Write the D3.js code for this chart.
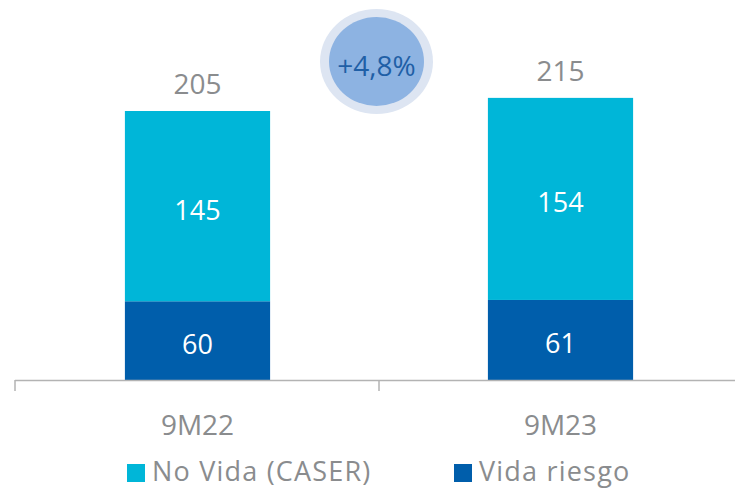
<!DOCTYPE html>
<html>
<head>
<meta charset="utf-8">
<script src="https://cdn.jsdelivr.net/npm/d3@7"></script>
<style>
  body { margin: 0; background: #fff; }
  svg { display: block; font-family: "Open Sans", Lato, sans-serif; }
</style>
</head>
<body>
<svg width="735" height="489"></svg>
<script>
// data
const periods = ["9M22", "9M23"];
const noVida = [145, 154];
const vidaRiesgo = [60, 61];
const totals = [205, 215];
const growthLabel = "+4,8%";
const seriesNames = ["No Vida (CASER)", "Vida riesgo"];

const colors = { noVida: "#00b6d8", vida: "#005eab", grey: "#8a8c8e" };

const svg = d3.select("svg");
const baseY = 380;

const x = d3.scaleBand()
    .domain(periods)
    .range([16, 742])
    .paddingInner(0.6)
    .paddingOuter(0.3);

const y = d3.scaleLinear()
    .domain([0, 205])
    .range([baseY, 111]);

const g = svg.append("g");

// stacked bars
const rows = periods.map((p, i) => ({ p, vida: vidaRiesgo[i], noVida: noVida[i], total: totals[i] }));

g.selectAll(".vida").data(rows).enter().append("rect")
    .attr("x", d => x(d.p))
    .attr("width", x.bandwidth())
    .attr("y", d => y(d.vida))
    .attr("height", d => y(0) - y(d.vida))
    .attr("fill", colors.vida);

g.selectAll(".novida").data(rows).enter().append("rect")
    .attr("x", d => x(d.p))
    .attr("width", x.bandwidth())
    .attr("y", d => y(d.vida + d.noVida))
    .attr("height", d => y(d.vida) - y(d.vida + d.noVida))
    .attr("fill", colors.noVida);

// value labels inside bars
g.selectAll(".lblVida").data(rows).enter().append("text")
    .attr("x", d => x(d.p) + x.bandwidth() / 2)
    .attr("y", d => (y(0) + y(d.vida)) / 2 + 13.5)
    .attr("text-anchor", "middle")
    .attr("fill", "#fff")
    .attr("font-size", 27)
    .text(d => d.vida);

g.selectAll(".lblNoVida").data(rows).enter().append("text")
    .attr("x", d => x(d.p) + x.bandwidth() / 2)
    .attr("y", d => (y(d.vida) + y(d.vida + d.noVida)) / 2 + 13.5)
    .attr("text-anchor", "middle")
    .attr("fill", "#fff")
    .attr("font-size", 27)
    .text(d => d.noVida);

// totals
g.selectAll(".tot").data(rows).enter().append("text")
    .attr("x", d => x(d.p) + x.bandwidth() / 2)
    .attr("y", d => y(d.total) - 17)
    .attr("text-anchor", "middle")
    .attr("fill", colors.grey)
    .attr("font-size", 28)
    .text(d => d.total);

// axis with ticks between categories
const axis = g.append("g");
axis.append("line")
    .attr("x1", 15).attr("x2", 735)
    .attr("y1", baseY + 0.5).attr("y2", baseY + 0.5)
    .attr("stroke", "#b3b3b3").attr("stroke-width", 1.5);
const step = x.step();
const tickXs = [x.range()[0] - 1, x(periods[1]) - step * 0.3];
axis.selectAll(".tick").data(tickXs).enter().append("line")
    .attr("x1", d => d).attr("x2", d => d)
    .attr("y1", baseY).attr("y2", baseY + 11)
    .attr("stroke", "#b3b3b3").attr("stroke-width", 1.5);

axis.selectAll(".cat").data(periods).enter().append("text")
    .attr("x", d => x(d) + x.bandwidth() / 2)
    .attr("y", 435)
    .attr("text-anchor", "middle")
    .attr("fill", colors.grey)
    .attr("font-size", 28)
    .text(d => d);

// growth badge
const badge = svg.append("g").attr("transform", "translate(376.5,61.5)");
badge.append("ellipse").attr("rx", 56.5).attr("ry", 52.5).attr("fill", "#dde5f2");
badge.append("ellipse").attr("rx", 47.5).attr("ry", 44.5).attr("fill", "#8db3e2");
badge.append("text")
    .attr("y", 14.5)
    .attr("text-anchor", "middle")
    .attr("fill", "#1f5fa6")
    .attr("font-size", 28)
    .text(growthLabel);

// legend
const legend = svg.append("g");
const legendItems = [
    { name: seriesNames[0], color: colors.noVida, x: 127 },
    { name: seriesNames[1], color: colors.vida, x: 454 }
];
const li = legend.selectAll("g").data(legendItems).enter().append("g")
    .attr("transform", d => `translate(${d.x},0)`);
li.append("rect").attr("y", 464).attr("width", 18).attr("height", 18).attr("fill", d => d.color);
li.append("text")
    .attr("x", 25)
    .attr("y", 481)
    .attr("fill", colors.grey)
    .attr("font-size", 27)
    .attr("letter-spacing", 1.2)
    .text(d => d.name);
</script>
</body>
</html>
